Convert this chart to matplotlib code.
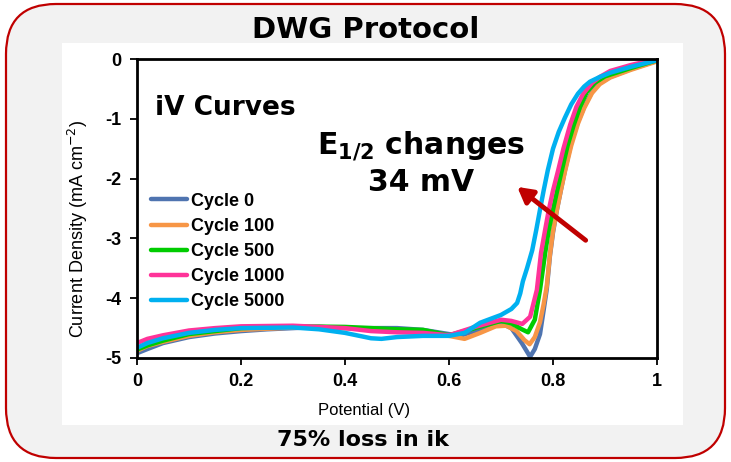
import matplotlib
matplotlib.use("Agg")
import matplotlib.pyplot as plt
from matplotlib.patches import FancyBboxPatch, Rectangle

# potential (V) and current density (mA cm-2) for each cycle count
x_c0 = [0, 0.02, 0.05, 0.1, 0.15, 0.2, 0.25, 0.3, 0.35, 0.4, 0.45, 0.5, 0.55, 0.6, 0.62,
        0.65, 0.68, 0.7, 0.72, 0.74, 0.756, 0.765, 0.775, 0.782, 0.788, 0.794, 0.8, 0.808,
        0.815, 0.823, 0.835, 0.848, 0.86, 0.875, 0.89, 0.91, 0.95, 1.0]
y_c0 = [-4.92, -4.85, -4.75, -4.65, -4.59, -4.55, -4.52, -4.5, -4.48, -4.5, -4.5, -4.5, -4.53,
        -4.6, -4.63, -4.55, -4.45, -4.42, -4.5, -4.75, -4.98, -4.85, -4.6, -4.2, -3.85, -3.3,
        -2.9, -2.5, -2.2, -1.86, -1.4, -1.05, -0.8, -0.55, -0.4, -0.3, -0.17, -0.03]

x_c100 = [0, 0.02, 0.05, 0.1, 0.15, 0.2, 0.3, 0.4, 0.5, 0.55, 0.6, 0.63, 0.66, 0.69, 0.71,
          0.73, 0.745, 0.755, 0.765, 0.775, 0.782, 0.788, 0.794, 0.8, 0.808, 0.815, 0.823,
          0.835, 0.848, 0.86, 0.875, 0.89, 0.91, 0.95, 1.0]
y_c100 = [-4.88, -4.8, -4.73, -4.63, -4.57, -4.53, -4.49, -4.5, -4.53, -4.56, -4.63, -4.68,
          -4.58, -4.47, -4.46, -4.55, -4.7, -4.77, -4.65, -4.4, -4.1, -3.8, -3.28, -2.88,
          -2.5, -2.2, -1.88, -1.45, -1.08, -0.82, -0.57, -0.42, -0.31, -0.18, -0.04]

x_c500 = [0, 0.02, 0.05, 0.1, 0.15, 0.2, 0.3, 0.4, 0.45, 0.5, 0.55, 0.6, 0.65, 0.7, 0.72,
          0.74, 0.752, 0.765, 0.775, 0.785, 0.792, 0.8, 0.808, 0.817, 0.828, 0.84, 0.852,
          0.865, 0.88, 0.9, 0.95, 1.0]
y_c500 = [-4.86, -4.79, -4.71, -4.6, -4.55, -4.5, -4.47, -4.48, -4.5, -4.52, -4.53, -4.62,
          -4.5, -4.38, -4.42, -4.52, -4.57, -4.36, -3.86, -3.24, -2.85, -2.52, -2.2, -1.86,
          -1.45, -1.1, -0.8, -0.55, -0.4, -0.29, -0.15, -0.02]

x_c1000 = [0, 0.02, 0.05, 0.1, 0.15, 0.2, 0.3, 0.4, 0.45, 0.5, 0.55, 0.6, 0.65, 0.7, 0.72,
           0.741, 0.756, 0.769, 0.777, 0.785, 0.792, 0.8, 0.81, 0.82, 0.833, 0.845, 0.858,
           0.875, 0.89, 0.91, 0.95, 1.0]
y_c1000 = [-4.75, -4.68, -4.62, -4.54, -4.5, -4.47, -4.46, -4.5, -4.55, -4.57, -4.58, -4.62,
           -4.48, -4.36, -4.38, -4.43, -4.31, -3.86, -3.24, -2.85, -2.52, -2.2, -1.86, -1.5,
           -1.1, -0.8, -0.58, -0.4, -0.3, -0.2, -0.1, 0.0]

x_c5000 = [0, 0.02, 0.05, 0.1, 0.15, 0.2, 0.3, 0.35, 0.4, 0.45, 0.47, 0.5, 0.55, 0.6, 0.63,
           0.66, 0.7, 0.72, 0.731, 0.737, 0.742, 0.75, 0.76, 0.768, 0.775, 0.782, 0.79, 0.8,
           0.811, 0.823, 0.835, 0.848, 0.86, 0.871, 0.89, 0.91, 0.95, 1.0]
y_c5000 = [-4.83, -4.75, -4.67, -4.58, -4.53, -4.5, -4.49, -4.52, -4.58, -4.67, -4.68, -4.65,
           -4.63, -4.63, -4.58, -4.41, -4.28, -4.18, -4.08, -3.92, -3.72, -3.5, -3.2, -2.85,
           -2.52, -2.2, -1.86, -1.5, -1.22, -0.98, -0.76, -0.58, -0.46, -0.38, -0.3, -0.23,
           -0.13, -0.02]

labels = ["Cycle 0", "Cycle 100", "Cycle 500", "Cycle 1000", "Cycle 5000"]
colors = ["#4F74B0", "#F79646", "#00CC00", "#FF3399", "#00B0F0"]
series = [(x_c0, y_c0), (x_c100, y_c100), (x_c500, y_c500),
          (x_c1000, y_c1000), (x_c5000, y_c5000)]

x_ticks = [0, 0.2, 0.4, 0.6, 0.8, 1.0]
x_ticklabels = ["0", "0.2", "0.4", "0.6", "0.8", "1"]
y_ticks = [0, -1, -2, -3, -4, -5]
y_ticklabels = ["0", "-1", "-2", "-3", "-4", "-5"]

fig = plt.figure(figsize=(7.31, 4.62), dpi=100, facecolor="white")

# grey rounded frame with red border, white panel for the chart
frame = FancyBboxPatch((0.06, 0.04), 7.19, 4.54,
                       boxstyle="round,pad=0,rounding_size=0.5",
                       transform=fig.dpi_scale_trans, facecolor="#F2F2F2",
                       edgecolor="#C00000", linewidth=1.6, zorder=-2)
fig.patches.append(frame)
panel = Rectangle((0.62, 0.37), 6.21, 3.82, transform=fig.dpi_scale_trans,
                  facecolor="white", edgecolor="none", zorder=-1)
fig.patches.append(panel)

ax = fig.add_axes([137 / 731, (462 - 358) / 462, 520 / 731, 299 / 462])
ax.set_facecolor("white")

for (xs, ys), lab, c in zip(series, labels, colors):
    ax.plot(xs, ys, color=c, lw=3.2, label=lab, solid_capstyle="round",
            solid_joinstyle="round")

ax.set_xlim(0, 1)
ax.set_ylim(-5, 0)
for s in ax.spines.values():
    s.set_linewidth(2)
ax.tick_params(direction="out", length=5, width=1.3, pad=6)
tick_font = {"family": "Liberation Sans", "weight": "bold", "size": 13}
ax.set_xticks(x_ticks)
ax.set_xticklabels(x_ticklabels, fontdict=tick_font)
ax.set_yticks(y_ticks)
ax.set_yticklabels(y_ticklabels, fontdict=tick_font)

ax.set_xlabel("Potential (V)", fontfamily="Liberation Sans", fontsize=12)
ax.xaxis.set_label_coords(0.437, -0.15)
ax.set_ylabel("Current Density (mA cm$^{-2}$)", fontfamily="Liberation Sans",
              fontsize=13)
ax.yaxis.set_label_coords(-0.09, 0.431)

leg = ax.legend(loc="upper left", bbox_to_anchor=(-0.005, 0.607), frameon=False,
                handlelength=2.0, handletextpad=0.25, labelspacing=0.45,
                prop={"family": "Liberation Sans", "weight": "bold", "size": 13})

ax.text(0.035, -0.82, "iV Curves", fontsize=19, fontweight="bold",
        fontfamily="DejaVu Sans", va="center", ha="left")
ax.text(0.546, -1.44, r"E$_{\mathbf{1/2}}$ changes", fontsize=21.5, fontweight="bold",
        fontfamily="DejaVu Sans", va="center", ha="center")
ax.text(0.546, -2.06, "34 mV", fontsize=21.5, fontweight="bold",
        fontfamily="DejaVu Sans", va="center", ha="center")
ax.annotate("", xy=(0.727, -2.11), xytext=(0.867, -3.06),
            arrowprops=dict(arrowstyle="-|>,head_length=0.9,head_width=0.5",
                            color="#C00000", lw=3.5))

fig.text(366 / 731, 1 - 30 / 462, "DWG Protocol", fontsize=21, fontweight="bold",
         fontfamily="DejaVu Sans", ha="center", va="center")
fig.text(363 / 731, 1 - 440 / 462, "75% loss in ik", fontsize=16, fontweight="bold",
         fontfamily="DejaVu Sans", ha="center", va="center")

fig.savefig("out.png", dpi=100, facecolor="white")
